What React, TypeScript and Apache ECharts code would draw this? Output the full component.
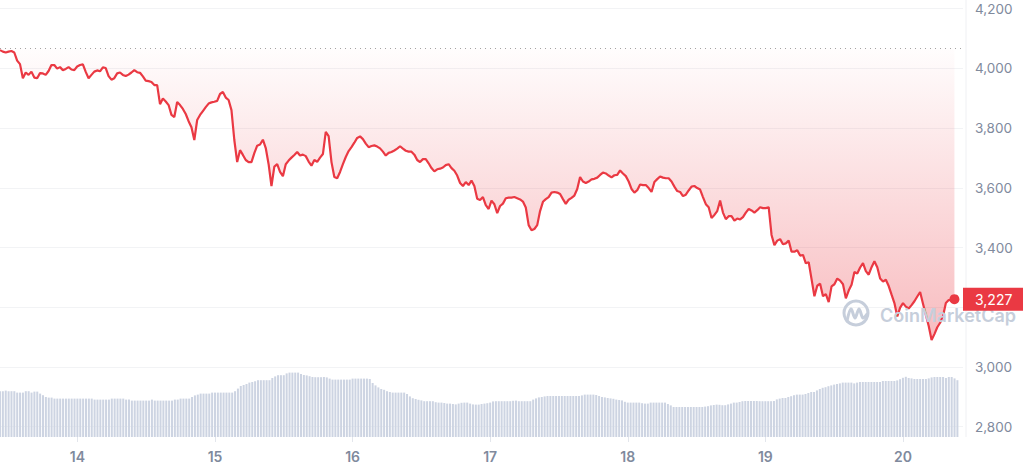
import React, { useEffect, useRef } from "react";
import * as echarts from "echarts";

// Half-hourly samples, first one at 13th 10:30 (hours counted from 13th 00:00)
const START_HOUR = 10.5;
const STEP_HOURS = 0.5;
const OPEN_PRICE = 4067;

const PRICES = [
  4061, 4056, 4053, 4056, 4058, 4053, 4026, 4014, 3967, 3986,
  3978, 3989, 3969, 3967, 3984, 3983, 3978, 3991, 4011, 4011,
  3999, 4004, 3994, 3998, 4004, 3996, 3994, 4006, 4011, 4013,
  3988, 3967, 3978, 3989, 3993, 3990, 4003, 4001, 3974, 3962,
  3967, 3983, 3986, 3978, 3974, 3979, 3986, 3994, 3987, 3985,
  3973, 3959, 3957, 3954, 3944, 3944, 3880, 3899, 3889, 3877,
  3844, 3837, 3887, 3877, 3864, 3847, 3823, 3803, 3760, 3827,
  3844, 3857, 3870, 3882, 3886, 3888, 3891, 3914, 3921, 3902,
  3894, 3860, 3760, 3686, 3726, 3710, 3693, 3686, 3686, 3716,
  3741, 3745, 3761, 3733, 3679, 3606, 3671, 3679, 3653, 3639,
  3679, 3691, 3701, 3710, 3720, 3708, 3711, 3706, 3688, 3674,
  3693, 3687, 3701, 3713, 3787, 3773, 3686, 3636, 3632, 3653,
  3679, 3703, 3723, 3736, 3751, 3767, 3772, 3763, 3748, 3736,
  3740, 3742, 3738, 3732, 3721, 3708, 3717, 3720, 3725, 3731,
  3739, 3731, 3724, 3721, 3721, 3711, 3693, 3686, 3696, 3696,
  3682, 3666, 3655, 3662, 3664, 3668, 3676, 3679, 3666, 3657,
  3641, 3616, 3606, 3619, 3609, 3624, 3606, 3563, 3559, 3569,
  3542, 3529, 3557, 3545, 3515, 3539, 3547, 3565, 3567, 3567,
  3569, 3565, 3561, 3554, 3534, 3475, 3458, 3462, 3475, 3522,
  3553, 3562, 3569, 3584, 3586, 3584, 3579, 3562, 3546, 3560,
  3566, 3574, 3596, 3636, 3621, 3616, 3621, 3628, 3630, 3634,
  3643, 3651, 3648, 3641, 3635, 3642, 3643, 3658, 3648, 3639,
  3621, 3596, 3584, 3592, 3611, 3609, 3609, 3599, 3586, 3619,
  3629, 3638, 3634, 3632, 3632, 3621, 3604, 3589, 3586, 3572,
  3577, 3591, 3604, 3606, 3599, 3594, 3569, 3545, 3535, 3499,
  3509, 3522, 3557, 3517, 3495, 3505, 3505, 3490, 3497, 3494,
  3502, 3517, 3529, 3524, 3517, 3525, 3535, 3532, 3532, 3535,
  3442, 3408, 3423, 3428, 3411, 3414, 3423, 3386, 3386, 3391,
  3373, 3375, 3347, 3351, 3294, 3237, 3272, 3279, 3237, 3244,
  3217, 3270, 3277, 3296, 3289, 3277, 3230, 3256, 3275, 3318,
  3313, 3333, 3348, 3321, 3309, 3334, 3354, 3334, 3296, 3286,
  3292, 3271, 3242, 3214, 3169, 3199, 3214, 3202, 3196, 3207,
  3220, 3236, 3251, 3212, 3174, 3137, 3090, 3110, 3133, 3148,
  3170, 3214, 3224, 3224, 3227,
];

// Volume (billions USD), same half-hourly timestamps
const VOLUMES = [
  22.9, 22.9, 23.2, 22.9, 22.9, 22.9, 22.2, 22.2, 22.2, 22.9,
  22.9, 22.2, 22.7, 22.7, 21.7, 20.9, 20.0, 19.7, 19.7, 19.2,
  19.2, 19.2, 19.2, 19.2, 19.2, 19.2, 19.2, 19.2, 19.2, 19.2,
  19.2, 19.2, 19.2, 18.7, 18.7, 18.7, 18.7, 18.7, 18.7, 19.2,
  19.2, 19.2, 19.2, 19.2, 18.7, 18.7, 18.2, 18.2, 18.2, 18.2,
  18.2, 18.2, 18.2, 18.7, 18.2, 18.2, 18.2, 18.2, 18.2, 18.2,
  18.2, 18.7, 18.7, 19.2, 19.2, 19.2, 19.2, 20.0, 20.8, 21.2,
  21.7, 21.7, 21.7, 21.7, 22.2, 22.2, 22.2, 22.2, 22.2, 22.2,
  22.2, 22.2, 22.9, 24.2, 25.5, 26.0, 26.5, 27.2, 27.5, 27.9,
  28.4, 28.4, 28.4, 28.4, 28.4, 29.5, 30.3, 30.9, 30.9, 30.9,
  31.8, 32.2, 32.2, 32.2, 32.2, 31.5, 31.0, 30.8, 30.4, 30.0,
  29.9, 29.9, 29.9, 30.0, 29.8, 29.2, 28.7, 28.7, 28.7, 28.7,
  28.7, 28.7, 28.7, 29.2, 29.2, 29.2, 29.2, 29.2, 29.2, 29.0,
  27.0, 25.8, 24.8, 24.0, 23.6, 22.9, 22.5, 22.2, 22.2, 22.2,
  22.2, 22.2, 21.5, 20.3, 19.4, 19.0, 18.6, 18.3, 17.9, 17.9,
  17.9, 17.9, 17.4, 17.2, 17.2, 17.0, 16.7, 16.7, 16.5, 16.3,
  16.7, 17.1, 17.2, 17.2, 16.7, 16.3, 16.2, 16.2, 16.5, 16.7,
  16.9, 17.2, 17.8, 17.9, 17.9, 17.9, 17.9, 17.9, 17.9, 18.1,
  18.2, 17.9, 17.9, 17.9, 17.9, 17.9, 18.7, 19.3, 19.8, 20.0,
  20.3, 20.5, 20.5, 20.5, 20.5, 20.5, 20.5, 20.5, 20.5, 20.5,
  20.5, 20.5, 20.5, 20.8, 21.2, 21.2, 21.2, 21.2, 21.0, 20.5,
  20.0, 19.8, 19.5, 19.3, 19.1, 18.7, 18.5, 18.3, 17.6, 17.2,
  17.2, 17.2, 17.2, 17.2, 16.9, 16.7, 16.7, 17.2, 17.2, 17.2,
  17.2, 17.2, 17.2, 16.5, 15.8, 15.0, 15.0, 15.0, 15.0, 15.0,
  15.0, 15.0, 15.0, 15.0, 15.0, 15.0, 15.2, 15.4, 15.8, 16.0,
  16.2, 16.1, 15.9, 15.9, 16.3, 16.7, 17.2, 17.2, 17.5, 17.9,
  18.0, 18.0, 18.0, 18.0, 18.0, 17.9, 17.9, 17.9, 17.9, 17.9,
  18.0, 18.8, 19.2, 19.5, 19.5, 20.0, 20.4, 20.9, 21.2, 21.2,
  21.2, 21.5, 22.0, 22.5, 22.5, 23.3, 24.0, 24.6, 24.9, 25.4,
  25.8, 26.2, 26.5, 26.8, 27.2, 27.2, 27.2, 27.2, 26.8, 27.2,
  27.5, 27.5, 27.5, 27.5, 27.5, 27.5, 27.5, 27.5, 28.0, 28.0,
  28.0, 28.0, 28.0, 28.3, 28.9, 29.6, 30.1, 29.5, 29.3, 29.0,
  29.0, 29.0, 29.0, 29.0, 29.3, 29.8, 30.0, 30.0, 30.0, 30.0,
  29.5, 30.0, 30.0, 29.3, 28.4,
];

// Day labels: day-of-month 14..20 at midnight (hours from 13th 00:00)
const DAY_TICKS = [24, 48, 72, 96, 120, 144, 168];
const FIRST_DAY = 13;
const Y_TICKS_HIDDEN = [3200];

const X_MIN = 10.5;
const X_MAX = 179;
const Y_MIN = 2800;
const Y_MAX = 4200;
const Y_STEP = 200;

const RED = "#ea3943";
const GREY_TEXT = "#808a9d";
const WATERMARK = "#c6cedb";
const FONT = "Inter, 'Noto Sans', sans-serif";

export default function App() {
  const ref = useRef<HTMLDivElement>(null);

  useEffect(() => {
    if (!ref.current) return;
    const chart = echarts.init(ref.current, undefined, { renderer: "svg" });

    const hours = PRICES.map((_, i) => START_HOUR + i * STEP_HOURS);
    const priceData = PRICES.map((p, i) => [hours[i], p]);
    const volData = VOLUMES.map((v, i) => [START_HOUR + i * STEP_HOURS, v]);
    const lastIdx = PRICES.length - 1;
    const lastPrice = PRICES[lastIdx];
    const firstHour = hours[0];
    const lastHour = hours[lastIdx];

    const fillGradient = new echarts.graphic.LinearGradient(0, 0, 0, 1, [
      { offset: 0, color: "rgba(234,57,67,0.01)" },
      { offset: 1, color: "rgba(234,57,67,0.34)" },
    ]);

    const option: any = {
      animation: false,
      backgroundColor: "#ffffff",
      textStyle: { fontFamily: FONT },
      grid: [
        { left: 0, right: 60, top: 8.6, bottom: 43.3 },
        { left: 0, right: 60, top: 337, bottom: 33 },
      ],
      xAxis: [
        {
          type: "value",
          gridIndex: 0,
          min: X_MIN,
          max: X_MAX,
          show: false,
        },
        {
          type: "value",
          gridIndex: 1,
          min: X_MIN,
          max: X_MAX,
          axisLine: { show: false },
          splitLine: { show: false },
          axisTick: {
            show: true,
            customValues: DAY_TICKS,
            length: 5,
            lineStyle: { color: "#e3e6ec", width: 1 },
          },
          axisLabel: {
            customValues: DAY_TICKS,
            formatter: (v: number) => String(FIRST_DAY + Math.round(v / 24)),
            color: GREY_TEXT,
            fontSize: 14,
            fontWeight: 600,
            fontFamily: FONT,
            margin: 12,
          },
        },
      ],
      yAxis: [
        {
          type: "value",
          gridIndex: 0,
          position: "right",
          min: Y_MIN,
          max: Y_MAX,
          interval: Y_STEP,
          axisLine: { show: false },
          axisTick: { show: false },
          splitLine: { show: true, lineStyle: { color: "#f2f3f5", width: 1 } },
          axisLabel: {
            margin: 12,
            color: GREY_TEXT,
            fontSize: 13.5,
            fontFamily: FONT,
            formatter: (v: number) =>
              Y_TICKS_HIDDEN.includes(v) ? "" : v.toLocaleString("en-US"),
          },
        },
        {
          type: "value",
          gridIndex: 1,
          min: 0,
          max: 50,
          show: false,
          splitLine: { show: false },
        },
        {
          // current-price tag on the right axis
          type: "value",
          gridIndex: 0,
          position: "right",
          min: Y_MIN,
          max: Y_MAX,
          z: 10,
          axisLine: { show: false },
          axisTick: { show: false },
          splitLine: { show: false },
          axisLabel: {
            customValues: [lastPrice],
            margin: 0,
            formatter: (v: number) => v.toLocaleString("en-US"),
            color: "#ffffff",
            backgroundColor: RED,
            fontSize: 14,
            fontFamily: FONT,
            lineHeight: 15,
            padding: [4, 11, 4, 12],
            width: 37,
            align: "left",
          },
        },
      ],
      graphic: [
        {
          type: "line",
          shape: { x1: 966, y1: 0, x2: 966, y2: 437 },
          style: { stroke: "#eff0f3", lineWidth: 1 },
          z: 1,
          silent: true,
        },
        {
          type: "group",
          z: 3,
          silent: true,
          children: [
            {
              type: "ring",
              shape: { cx: 856, cy: 313, r: 13.5, r0: 10.5 },
              style: { fill: WATERMARK },
              z: 3,
            },
            {
              type: "polyline",
              shape: {
                points: [
                  [847, 321],
                  [851, 309],
                  [855, 318],
                  [859, 309],
                  [863, 318],
                  [867, 314],
                ],
                smooth: 0.35,
              },
              style: { stroke: WATERMARK, lineWidth: 3, fill: null, lineCap: "round" },
              z: 3,
            },
            {
              type: "text",
              x: 880,
              y: 315,
              style: {
                text: "CoinMarketCap",
                fill: WATERMARK,
                font: `600 18px ${FONT}`,
                verticalAlign: "middle",
                align: "left",
              },
              z: 3,
            },
          ],
        },
      ],
      series: [
        {
          // gradient fill between the opening-price line and the price line
          name: "fill",
          type: "custom",
          xAxisIndex: 0,
          yAxisIndex: 0,
          data: [[firstHour, OPEN_PRICE]],
          encode: { x: 0, y: 1 },
          silent: true,
          z: 1,
          renderItem: (_params: any, api: any) => {
            const pts = priceData.map((d) => api.coord(d));
            pts.push(api.coord([lastHour, OPEN_PRICE]));
            pts.push(api.coord([firstHour, OPEN_PRICE]));
            return {
              type: "polygon",
              shape: { points: pts },
              style: { fill: fillGradient, stroke: null },
            };
          },
          markLine: {
            silent: true,
            symbol: ["none", "none"],
            label: { show: false },
            lineStyle: { type: [1, 4], color: "#a3a3a3", width: 1 },
            data: [{ yAxis: OPEN_PRICE }],
          },
        },
        {
          name: "price",
          type: "line",
          xAxisIndex: 0,
          yAxisIndex: 0,
          data: priceData,
          symbol: "none",
          lineStyle: { color: RED, width: 2.2 },
          itemStyle: { color: RED },
          silent: true,
          z: 2,
        },
        {
          name: "last",
          type: "scatter",
          xAxisIndex: 0,
          yAxisIndex: 0,
          data: [[lastHour, lastPrice]],
          symbol: "circle",
          symbolSize: 10,
          itemStyle: { color: RED, opacity: 1 },
          silent: true,
          z: 4,
        },
        {
          name: "volume",
          type: "bar",
          xAxisIndex: 1,
          yAxisIndex: 1,
          data: volData,
          barWidth: 2,
          itemStyle: { color: "#cdd4e2" },
          silent: true,
          z: 1,
        },
      ],
    };

    chart.setOption(option);
    return () => chart.dispose();
  }, []);

  return (
    <div
      ref={ref}
      style={{
        position: "fixed",
        left: 0,
        top: 0,
        width: 1026,
        height: 470,
        background: "#ffffff",
      }}
    />
  );
}
